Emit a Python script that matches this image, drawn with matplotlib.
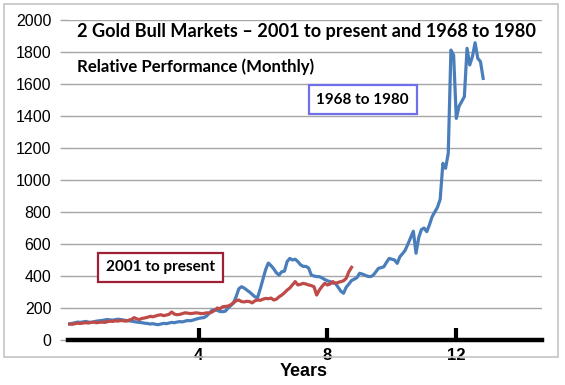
import matplotlib
matplotlib.use("Agg")
import matplotlib.pyplot as plt
from matplotlib.patches import Rectangle
import numpy as np

# monthly relative performance, start = 100
bull_1968 = [100, 104, 108, 112, 110, 113, 116, 112, 110, 114, 118, 120,
             122, 125, 128, 126, 124, 127, 130, 128, 125, 122, 120, 118,
             115, 112, 110, 108, 105, 103, 100, 102, 98, 96, 100, 104,
             102, 106, 110, 108, 112, 115, 113, 118, 122, 120, 125, 130,
             135, 138, 140, 150, 168, 185, 190, 185, 178, 177, 180, 200,
             215, 231, 270, 320, 333, 325, 312, 300, 285, 270, 265, 320,
             380, 440, 481, 465, 445, 420, 406, 427, 430, 490, 510, 500,
             505, 490, 470, 460, 460, 450, 406, 400, 396, 396, 388, 378,
             370, 365, 356, 354, 330, 305, 292, 330, 350, 372, 380, 390,
             417, 412, 405, 398, 396, 404, 425, 448, 452, 458, 485, 510,
             505, 500, 479, 521, 540, 562, 600, 640, 680, 542, 640, 690,
             700, 677, 720, 771, 800, 830, 880, 1104, 1073, 1167, 1812, 1781,
             1385, 1460, 1490, 1521, 1823, 1719, 1771, 1858, 1760, 1740, 1635]

bull_2001 = [100, 98, 102, 105, 103, 106, 108, 106, 110, 112, 108, 110,
             112, 110, 114, 118, 116, 120, 118, 122, 120, 118, 124, 128,
             140, 132, 128, 135, 138, 142, 148, 145, 150, 155, 158, 152,
             156, 160, 175, 162, 158, 160, 165, 170, 168, 165, 167, 170,
             168, 165, 166, 170, 168, 175, 185, 200, 195, 208, 210, 212,
             220, 233, 245, 250, 240, 238, 242, 240, 232, 245, 250, 248,
             255, 260, 258, 262, 250, 255, 270, 281, 295, 312, 325, 345,
             365, 344, 348, 354, 350, 344, 340, 333, 281, 312, 335, 354,
             344, 350, 365, 354, 360, 365, 370, 385, 427, 454]

year_ticks = [4, 8, 12]
y_ticks = [0, 200, 400, 600, 800, 1000, 1200, 1400, 1600, 1800, 2000]

W, H = 565, 385


def fx(px):
    return px / W


def fy(py):
    return 1 - py / H


fig = plt.figure(figsize=(W / 100, H / 100), dpi=100)
ax = fig.add_axes([fx(68), fy(340), (541.7 - 68) / W, 320 / H])

x1 = np.arange(len(bull_1968)) / 12.0
x2 = np.arange(len(bull_2001)) / 12.0
ax.plot(x1, bull_1968, color='#4a7ebb', lw=2.3, solid_joinstyle='round', zorder=3)
ax.plot(x2, bull_2001, color='#be4b48', lw=2.3, solid_joinstyle='round', zorder=4)

ax.set_xlim(-0.05, 14.65)
ax.set_ylim(0, 2000)
ax.set_yticks(y_ticks)
ax.set_xticks(year_ticks)
ax.yaxis.grid(True, color='#a6a6a6', lw=1)
ax.set_axisbelow(True)

for s in ['top', 'right', 'left']:
    ax.spines[s].set_visible(False)
ax.spines['bottom'].set_linewidth(3.2)
ax.spines['bottom'].set_color('black')
ax.spines['bottom'].set_zorder(5)

ax.tick_params(axis='y', length=6, width=1, color='#a6a6a6', pad=6,
               labelsize=11.5, labelfontfamily='Liberation Sans')
ax.tick_params(axis='x', direction='in', length=9, width=3, color='black',
               pad=6, labelsize=12)
for lab in ax.get_xticklabels():
    lab.set_fontweight('bold')
    lab.set_fontfamily('Liberation Sans')

fig.text(fx(76.7), fy(31), '2 Gold Bull Markets \u2013 2001 to present and 1968 to 1980',
         fontsize=13.1, fontweight='bold', family='Lato', va='center', ha='left')
fig.text(fx(76.7), fy(67), 'Relative Performance (Monthly)',
         fontsize=12.1, fontweight='bold', family='Lato', va='center', ha='left')

fig.text(fx(362.8), fy(99.5), '1968 to 1980', fontsize=11, fontweight='bold',
         family='Lato', va='center', ha='center',
         bbox=dict(boxstyle='square,pad=0.5', fc='white', ec='#7070e8', lw=1.6))
fig.text(fx(160.5), fy(267.2), '2001 to present', fontsize=11, fontweight='bold',
         family='Lato', va='center', ha='center',
         bbox=dict(boxstyle='square,pad=0.5', fc='white', ec='#9e1f36', lw=1.6))

fig.text(fx(304), fy(372), 'Years', fontsize=13, fontweight='bold',
         family='Liberation Sans', va='center', ha='center')

fig.patches.append(Rectangle((fx(3.5), fy(357)), fx(554.5), 353.5 / H,
                             transform=fig.transFigure, fill=False,
                             ec='#c4c4c4', lw=1.2))

fig.savefig('out.png', dpi=100)
